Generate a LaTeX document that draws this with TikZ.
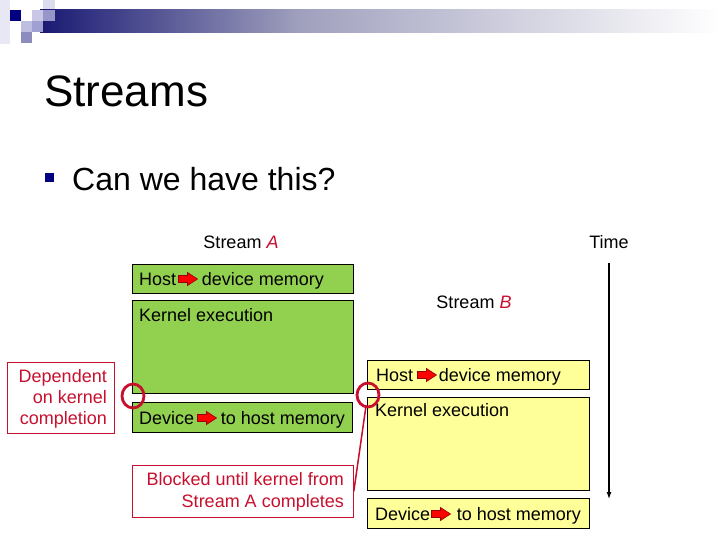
\documentclass[tikz,border=0pt]{standalone}
\usepackage{fontspec}
\setmainfont{Liberation Sans}
\usetikzlibrary{arrows.meta,shapes.geometric}
\definecolor{gfill}{RGB}{146,208,80}
\definecolor{yfill}{RGB}{255,255,153}
\definecolor{dred}{RGB}{200,16,46}
\definecolor{navy}{RGB}{0,0,128}
\definecolor{arrline}{RGB}{150,0,0}
\definecolor{hnavy}{RGB}{25,25,115}
\definecolor{hmid}{RGB}{160,160,190}
\definecolor{sqa}{RGB}{232,232,244}
\definecolor{sqb}{RGB}{220,220,240}
\definecolor{sqc}{RGB}{200,200,230}
\definecolor{sqd}{RGB}{150,150,200}
\definecolor{sqe}{RGB}{190,190,225}
\definecolor{sqf}{RGB}{160,160,210}
\definecolor{sqg}{RGB}{140,140,190}
\newcommand{\redarr}{\tikz[x=1pt,y=1pt,baseline=-6pt]{\draw[line width=0.6pt,draw=arrline,fill=red] (0,-3.5)--(9,-3.5)--(9,-6.5)--(19,0)--(9,6.5)--(9,3.5)--(0,3.5)--cycle;}}
\begin{document}
\begin{tikzpicture}[x=1pt,y=-1pt,
  every node/.style={inner sep=0pt, font=\fontsize{18}{21}\selectfont},
  gbox/.style={draw=black, line width=0.8pt, fill=gfill, anchor=north west},
  ybox/.style={draw=black, line width=0.8pt, fill=yfill, anchor=north west},
  rbox/.style={draw=dred, line width=0.8pt, fill=white, anchor=north west},
  txt/.style={anchor=base west},
  rcirc/.style={ellipse, draw=dred, line width=2.8pt, minimum width=22pt, minimum height=24pt}]
\fill[white] (0,0) rectangle (720,540);
\useasboundingbox (0,0) rectangle (720,540);
% header decoration
\fill[sqa] (0,0) rectangle (10,44);
\fill[sqb] (43,0) rectangle (55,10);
\shade[left color=hnavy, right color=hmid] (40,10) rectangle (300.5,33);
\shade[left color=hmid, right color=white] (300,10) rectangle (720,33);
\fill[navy] (10,10) rectangle (21,21);
\fill[sqc] (32,10) rectangle (43,21);
\fill[sqd] (43,10) rectangle (55,21);
\fill[sqe] (21,21) rectangle (32,32);
\fill[sqf] (32,21) rectangle (43,32);
\fill[sqg] (21,32) rectangle (32,43);
% title and bullet
\node[txt, font=\fontsize{44}{50}\selectfont] (title) at (44,107) {Streams};
\node[fill=navy, minimum size=9pt, anchor=north west] (bsq) at (45,173) {};
\node[txt, font=\fontsize{32}{38}\selectfont] (bullet) at (72,191) {Can we have this?};
% labels
\node[anchor=base] (sa) at (241,248) {Stream \textcolor{dred}{\textit{A}}};
\node[anchor=base] (time) at (609,248) {Time};
\node[anchor=base] (sb) at (474,308) {Stream \textcolor{dred}{\textit{B}}};
% stream A boxes
\node[gbox, minimum width=221pt, minimum height=29pt] (a1) at (132,264) {};
\node[gbox, minimum width=221pt, minimum height=93pt] (a2) at (132,300) {};
\node[gbox, minimum width=220pt, minimum height=30pt] (a3) at (132,402) {};
\node[txt] (ta1) at (139,285) {Host\hspace{2pt}\redarr\hspace{4pt}device memory};
\node[txt] (ta2) at (139,321) {Kernel execution};
\node[txt] (ta3) at (139,424) {Device\hspace{3pt}\redarr\hspace{4pt}to host memory};
% stream B boxes
\node[ybox, minimum width=222pt, minimum height=29pt] (b1) at (367,360) {};
\node[ybox, minimum width=222pt, minimum height=93pt] (b2) at (367,397) {};
\node[ybox, minimum width=222pt, minimum height=30pt] (b3) at (367,498) {};
\node[txt] (tb1) at (376,381) {Host\hspace{4pt}\redarr\hspace{2pt}device memory};
\node[txt] (tb2) at (375,416) {Kernel execution};
\node[txt] (tb3) at (375,520) {Device\hspace{1pt}\redarr\hspace{6pt}to host memory};
% red annotation boxes
\node[rbox, minimum width=107pt, minimum height=71pt] (dep) at (7,362) {};
\node[anchor=base east, align=right, text=dred] (tdep) at (107,424) {Dependent\\on kernel\\completion};
\node[rbox, minimum width=221pt, minimum height=52pt] (blk) at (132,465) {};
\node[anchor=base east, align=right, text=dred, font=\fontsize{18}{22}\selectfont] (tblk) at (344,507) {Blocked until kernel from\\Stream A completes};
% circles and connector
\node[rcirc] (c1) at (133,396) {};
\node[rcirc] (c2) at (368,395) {};
\draw[dred, line width=1.5pt] (c2.-100) -- (blk.east);
% time arrow
\coordinate (tend) at (609,499);
\draw[line width=1.2pt, -{Latex[length=7pt,width=5pt]}] ([yshift=-15pt]time.south) -- (tend);
\end{tikzpicture}
\end{document}
